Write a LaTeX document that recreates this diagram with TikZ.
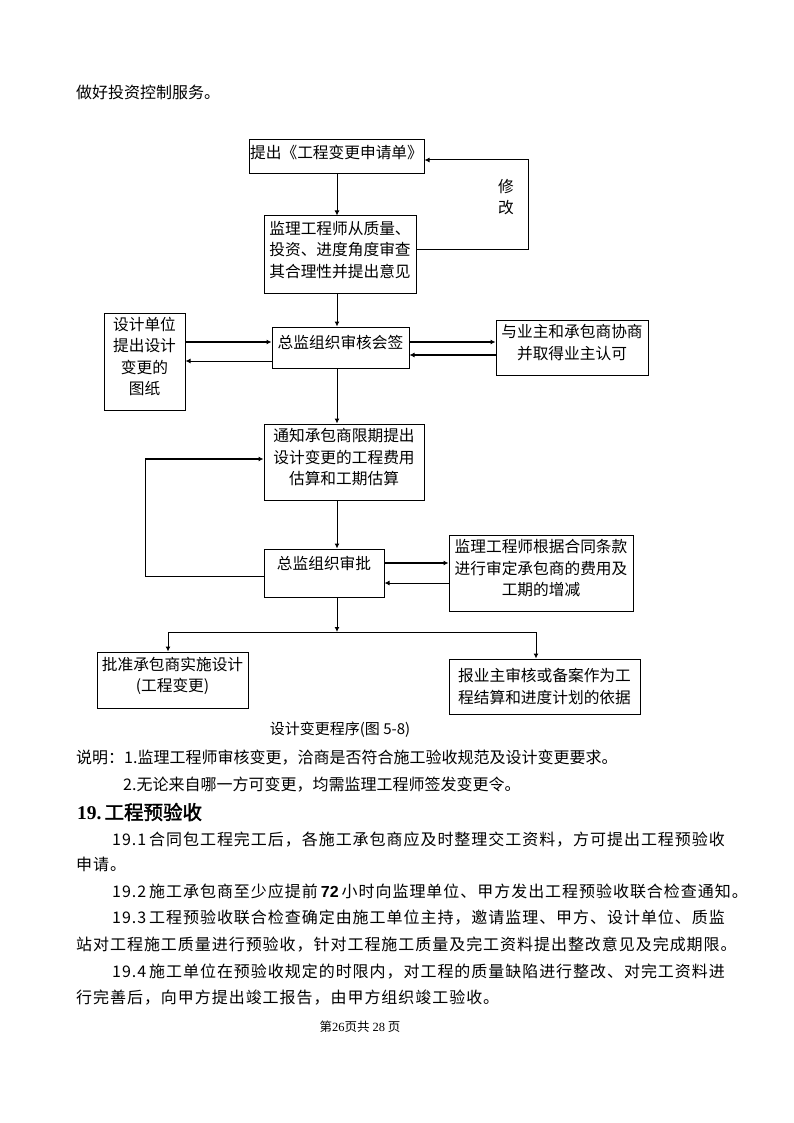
\documentclass[tikz,border=0pt]{standalone}
\usepackage{fontspec}
\setmainfont{Noto Sans CJK SC}
\newfontfamily\bodyfont[LetterSpace=6]{Noto Sans CJK SC}
\newfontfamily\headfont[FakeBold=2]{Noto Sans CJK SC}
\newfontfamily\latinserif{Liberation Serif}
\newfontfamily\latinsans{Liberation Sans}
\usetikzlibrary {arrows.meta}
\XeTeXlinebreaklocale "zh"
\XeTeXlinebreakskip=0pt plus 3pt

\tikzset{
    flowbox/.style={draw,line width=1pt,inner sep=0pt,align=center,font=\chartfont},
    link/.style={line width=1pt},
    thinarrow/.style={line width=1pt,-{Latex[length=5pt,width=5pt]}},
    boldarrow/.style={line width=2.2pt,-{Latex[length=5pt,width=5pt]}},
    plaintext/.style={anchor=west,inner sep=0pt,font=\fontsize{16}{20}\selectfont},
    bodyline/.style={anchor=west,inner sep=0pt,font={\bodyfont\fontsize{16}{20}\selectfont}}
}
\newcommand{\chartfont}{\fontsize{15.7}{21.5}\selectfont}
\newcommand{\lift}{\rule[-11pt]{0pt}{11pt}}
\newcommand{\myBox}[6]{
    \node[flowbox,minimum width=#3pt,minimum height=#4pt] (#5) at (#1,#2) {#6};
}
\newcommand{\myText}[4]{
    \node[plaintext] (#3) at (#1,#2) {#4};
}

\begin{document}
\begin{tikzpicture}[x=1pt,y=-1pt]
      \path[use as bounding box,fill=white] (0,0) rectangle (794,1123);

      \myText{76}{92}{intro}{做好投资控制服务。}

      % flow chart
      \myBox{336.5}{157}{175}{34}{ask}{提出《工程变更申请单》\lift}
      \myBox{340}{254.5}{152}{77}{review}{监理工程师从质量、\\投资、进度角度审查\\其合理性并提出意见\lift}
      \myBox{144.5}{361.5}{81}{97}{drawing}{设计单位\\提出设计\\变更的\\图纸\lift}
      \node[flowbox,minimum width=137pt,minimum height=41pt,text height=21pt,text depth=20pt] (sign) at (340.5,347.5) {总监组织审核会签};
      \myBox{572}{347.5}{152}{55}{owner}{与业主和承包商协商\\并取得业主认可\lift}
      \myBox{344}{462}{160}{76}{notify}{通知承包商限期提出\\设计变更的工程费用\\估算和工期估算\lift}
      \node[flowbox,minimum width=120pt,minimum height=48pt,text height=20pt,text depth=28pt] (approve) at (324,573) {总监组织审批};
      \myBox{541}{573}{184}{76}{adjust}{监理工程师根据合同条款\\进行审定承包商的费用及\\工期的增减\lift}
      \myBox{172.5}{680}{151}{56}{build}{批准承包商实施设计\\(工程变更)\lift}
      \myBox{544.5}{686.5}{191}{55}{report}{报业主审核或备案作为工\\程结算和进度计划的依据}

      \node[font=\chartfont,align=center,inner sep=0pt] (fix) at (506,197) {修\\改};
      \node[font=\fontsize{15}{18}\selectfont,inner sep=0pt] (caption) at (340,730) {设计变更程序(图 5-8)};

      \coordinate (spine) at (337,0);
      \draw[thinarrow] (ask.south -| spine) -- (review.north -| spine);
      \draw[thinarrow] (review.south -| spine) -- (sign.north -| spine);
      \draw[thinarrow] (sign.south -| spine) -- (notify.north -| spine);
      \draw[thinarrow] (notify.south -| spine) -- (approve.north -| spine);

      \coordinate (fixR) at (528,160);
      \draw[thinarrow] (review.east |- 0,249) -| (fixR) -- (ask.east |- fixR);

      \draw[boldarrow] (drawing.east |- 0,342) -- (sign.west |- 0,342);
      \draw[thinarrow] (sign.west |- 0,361) -- (drawing.east |- 0,361);
      \draw[boldarrow] (sign.east |- 0,342) -- (owner.west |- 0,342);
      \draw[boldarrow] (owner.west |- 0,355) -- (sign.east |- 0,355);

      \coordinate (loopL) at (145,459);
      \draw[link] (approve.west |- 0,576) -| (loopL);
      \draw[boldarrow] (loopL) -- (notify.west |- loopL);

      \draw[boldarrow] (approve.east |- 0,563) -- (adjust.west |- 0,563);
      \draw[thinarrow] (adjust.west |- 0,583) -- (approve.east |- 0,583);

      \coordinate (fork) at (337,632);
      \coordinate (forkL) at (168,632);
      \coordinate (forkR) at (536,632);
      \draw[thinarrow] (approve.south -| spine) -- (fork);
      \draw[link] (forkL) -- (forkR);
      \draw[thinarrow] (forkL) -- (build.north -| forkL);
      \draw[thinarrow] (forkR) -- (report.north -| forkR);

      % notes and text
      \myText{76}{758}{noteA}{说明：1.监理工程师审核变更，洽商是否符合施工验收规范及设计变更要求。}
      \myText{123}{785}{noteB}{2.无论来自哪一方可变更，均需监理工程师签发变更令。}
      \node[anchor=west,inner sep=0pt] (head) at (77,812) {{\latinserif\bfseries\fontsize{19.5}{22}\selectfont 19.} {\headfont\fontsize{19.5}{22}\selectfont 工程预验收}};

      \node[bodyline] (p1a) at (112,840) {\makebox[605pt][s]{19.1 合同包工程完工后，各施工承包商应及时整理交工资料，方可提出工程预验收}};
      \node[bodyline] (p1b) at (76,864) {申请。};
      \node[bodyline] (p2) at (112,891) {\makebox[605pt][s]{19.2 施工承包商至少应提前 {\latinsans\bfseries 72} 小时向监理单位、甲方发出工程预验收联合检查通知。}};
      \node[bodyline] (p3a) at (112,918) {\makebox[605pt][s]{19.3 工程预验收联合检查确定由施工单位主持，邀请监理、甲方、设计单位、质监}};
      \node[bodyline] (p3b) at (76,945) {\makebox[641pt][s]{站对工程施工质量进行预验收，针对工程施工质量及完工资料提出整改意见及完成期限。}};
      \node[bodyline] (p4a) at (112,972) {\makebox[605pt][s]{19.4 施工单位在预验收规定的时限内，对工程的质量缺陷进行整改、对完工资料进}};
      \node[bodyline] (p4b) at (76,998) {行完善后，向甲方提出竣工报告，由甲方组织竣工验收。};

      \node[inner sep=0pt,font=\fontsize{12.5}{15}\selectfont] (footer) at (360,1027) {第{\latinserif 26}页共 {\latinserif 28} 页};
\end{tikzpicture}
\end{document}
